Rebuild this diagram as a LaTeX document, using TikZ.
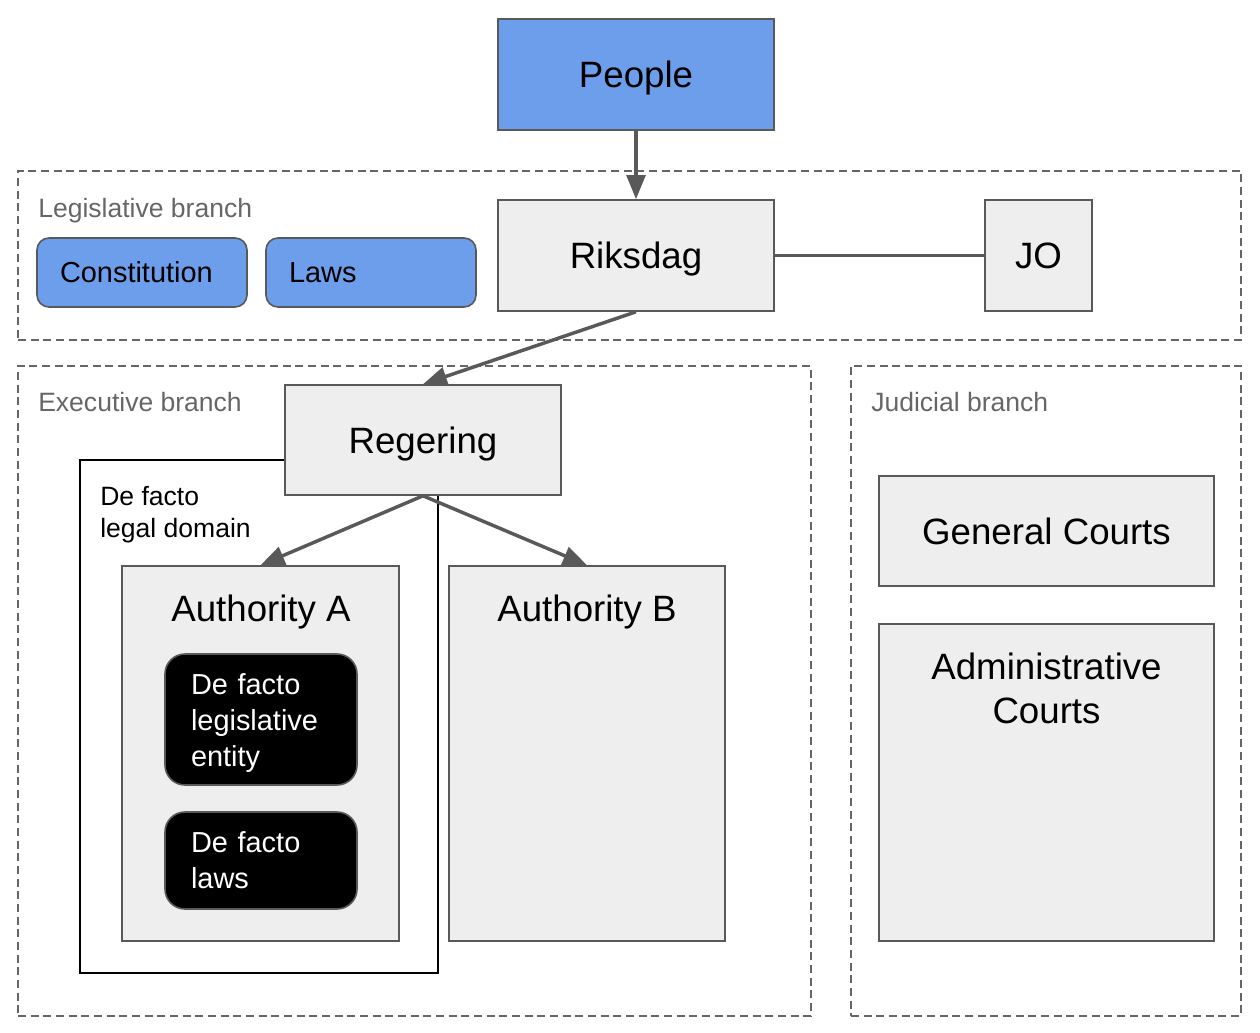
\documentclass[tikz,border=0pt]{standalone}
\usepackage{fontspec}
\setmainfont{Liberation Sans}
\usetikzlibrary{arrows.meta}
\definecolor{blu}{HTML}{6D9EEB}
\definecolor{gbox}{HTML}{EEEEEE}
\definecolor{gline}{HTML}{595959}
\definecolor{glabel}{HTML}{666666}
\begin{document}
\begin{tikzpicture}[x=0.75pt,y=-0.75pt,
  big/.style={font=\fontsize{27.5}{33}\selectfont},
  capc/.style={text height=19.7pt,text depth=0pt},
  mid/.style={font=\fontsize{21.7}{27}\selectfont},
  small/.style={font=\fontsize{19.9}{24}\selectfont},
  box/.style={draw=gline,line width=1.2pt,fill=gbox,inner sep=0pt,big,capc},
  bluebox/.style={draw=gline,line width=1.2pt,fill=blu,inner sep=0pt,big,capc},
  pill/.style={draw=gline,line width=1.2pt,fill=blu,rounded corners=9pt,mid,inner ysep=0pt,inner xsep=17.25pt,text width=123pt,align=left},
  blackbox/.style={draw=gline,line width=1.2pt,fill=black,text=white,rounded corners=15pt,mid,inner ysep=0pt,inner xsep=19.5pt,text width=105pt,align=left},
  whitetext/.style={mid,text=white,inner sep=0pt,text width=105pt,align=left},
  dashbox/.style={draw=glabel,line width=1.1pt,dash pattern=on 6pt off 3.5pt,inner sep=0pt},
  branch/.style={small,text=glabel,anchor=west,inner sep=0pt},
  conn/.style={draw=gline,line width=2.6pt},
  arr/.style={conn,-{Triangle[length=18pt,width=14pt]}}
]
\useasboundingbox (0,0) rectangle (1260,1032);
% branch containers
\node[dashbox,minimum width=917.25pt,minimum height=126.75pt] (leg) at (629.5,255.5) {};
\node[dashbox,minimum width=594.75pt,minimum height=487.5pt] (exe) at (414.5,691) {};
\node[dashbox,minimum width=292.5pt,minimum height=487.5pt] (jud) at (1046,691) {};
\node[branch] (legl) at (38,211) {Legislative branch};
\node[branch] (exel) at (38,402) {Executive branch};
\node[branch] (judl) at (871,402) {Judicial branch};
% de facto legal domain
\node[draw=black,line width=1.2pt,inner sep=0pt,minimum width=268.5pt,minimum height=384.75pt] (dom) at (259,716.5) {};
\node[anchor=north west,align=left,inner sep=0pt,font=\fontsize{19.9}{24}\selectfont] (doml) at (100,486) {De facto\\legal domain};
% top
\node[bluebox,minimum width=207pt,minimum height=83.25pt] (people) at (636,74.5) {People};
\node[box,minimum width=207pt,minimum height=83.25pt] (riksdag) at (636,255.5) {Riksdag};
\node[box,minimum width=80.25pt,minimum height=83.25pt] (jo) at (1038.5,255.5) {JO};
\node[pill,minimum height=51.75pt] (const) at (142,272.5) {Constitution};
\node[pill,minimum height=51.75pt] (laws) at (371,272.5) {Laws};
% executive
\node[box,minimum width=207pt,minimum height=82.5pt] (reg) at (423,440) {Regering};
\node[box,minimum width=207.75pt,minimum height=281.25pt] (autha) at (260.5,753.5) {};
\node[big,capc,inner sep=0pt] (authat) at (261,608) {Authority A};
\node[box,minimum width=207pt,minimum height=281.25pt] (authb) at (587,753.5) {};
\node[big,capc,inner sep=0pt] (authbt) at (587,608) {Authority B};
\node[blackbox,minimum height=98.25pt] (dfle) at (261,719.5) {};
\node[whitetext] (dflet) at (261,723.5) {De facto\\legislative\\entity};
\node[blackbox,minimum height=72.75pt] (dfl) at (261,860.5) {De facto\\laws};
% judicial
\node[box,minimum width=251.25pt,minimum height=82.5pt] (gc) at (1046.5,531) {General Courts};
\node[box,minimum width=251.25pt,minimum height=237.75pt] (ac) at (1046.5,782.5) {};
\node[big,inner sep=0pt,align=center] (act) at (1046.5,688) {Administrative\\Courts};
% connectors
\draw[arr] (people.south) -- (riksdag.north);
\draw[conn] (riksdag.east) -- (jo.west);
\draw[arr] (riksdag.south) -- (reg.north);
\draw[arr] (reg.south) -- (autha.north);
\draw[arr] (reg.south) -- (authb.north);
\end{tikzpicture}
\end{document}
